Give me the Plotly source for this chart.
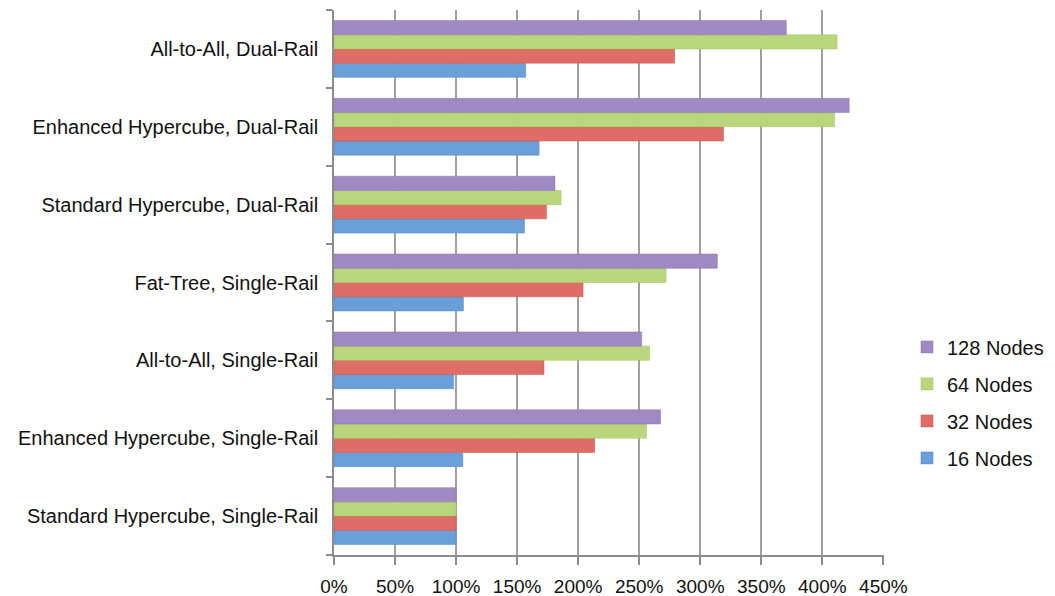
import plotly.graph_objects as go

categories = [
    "Standard Hypercube, Single-Rail",
    "Enhanced Hypercube, Single-Rail",
    "All-to-All, Single-Rail",
    "Fat-Tree, Single-Rail",
    "Standard Hypercube, Dual-Rail",
    "Enhanced Hypercube, Dual-Rail",
    "All-to-All, Dual-Rail",
]
nodes16 = [100, 105.5, 98, 106, 156, 168, 157]
nodes32 = [100, 213.5, 172, 204, 174, 319, 279]
nodes64 = [100, 256, 258.5, 272, 186, 410, 412]
nodes128 = [100, 267.5, 252, 314, 181, 422, 370.5]
series_names = ["16 Nodes", "32 Nodes", "64 Nodes", "128 Nodes"]
x_ticks = [0, 50, 100, 150, 200, 250, 300, 350, 400, 450]

colors = ["#6a9fd8", "#df6d67", "#bad67c", "#a08ac3"]
lines = ["#4a86c8", "#cc5049", "#a3c45a", "#8a70ae"]

fig = go.Figure()
for i, (name, vals, c, lc) in enumerate(zip(series_names, [nodes16, nodes32, nodes64, nodes128], colors, lines)):
    fig.add_trace(go.Bar(
        y=categories, x=vals, name=name, orientation="h",
        marker=dict(color=c, line=dict(color=lc, width=0.5)),
        legendgroup=name, legendrank=1000 - i,
    ))

fig.update_layout(
    width=1055, height=596,
    margin=dict(l=334, r=171, t=10, b=41, autoexpand=False),
    paper_bgcolor="white", plot_bgcolor="white",
    barmode="group", bargap=0.27, bargroupgap=0,
    font=dict(family="Liberation Sans, Arial, sans-serif", size=20, color="#111"),
    legend=dict(
        x=1.0418, y=0.28, xanchor="left", yanchor="middle",
        traceorder="grouped", tracegroupgap=8,
        font=dict(size=20), itemwidth=30,
    ),
    xaxis=dict(
        range=[0, 450.5], tickvals=x_ticks, ticktext=[f"{v}%" for v in x_ticks],
        showgrid=True, gridcolor="#a0a0a0", gridwidth=1.6,
        showline=True, linecolor="#8c8c8c", linewidth=1.6,
        ticks="outside", ticklen=8, tickcolor="#8c8c8c", tickwidth=1.6,
        zeroline=False, tickfont=dict(size=19), ticklabelstandoff=5,
    ),
    yaxis=dict(
        categoryorder="array", categoryarray=categories,
        showline=True, linecolor="#8c8c8c", linewidth=1.6,
        ticks="outside", ticklen=6, tickcolor="#8c8c8c", tickwidth=1.6,
        tickson="boundaries", showgrid=False,
        tickfont=dict(size=20), ticklabelstandoff=10,
    ),
)

fig.write_html("out.html")
